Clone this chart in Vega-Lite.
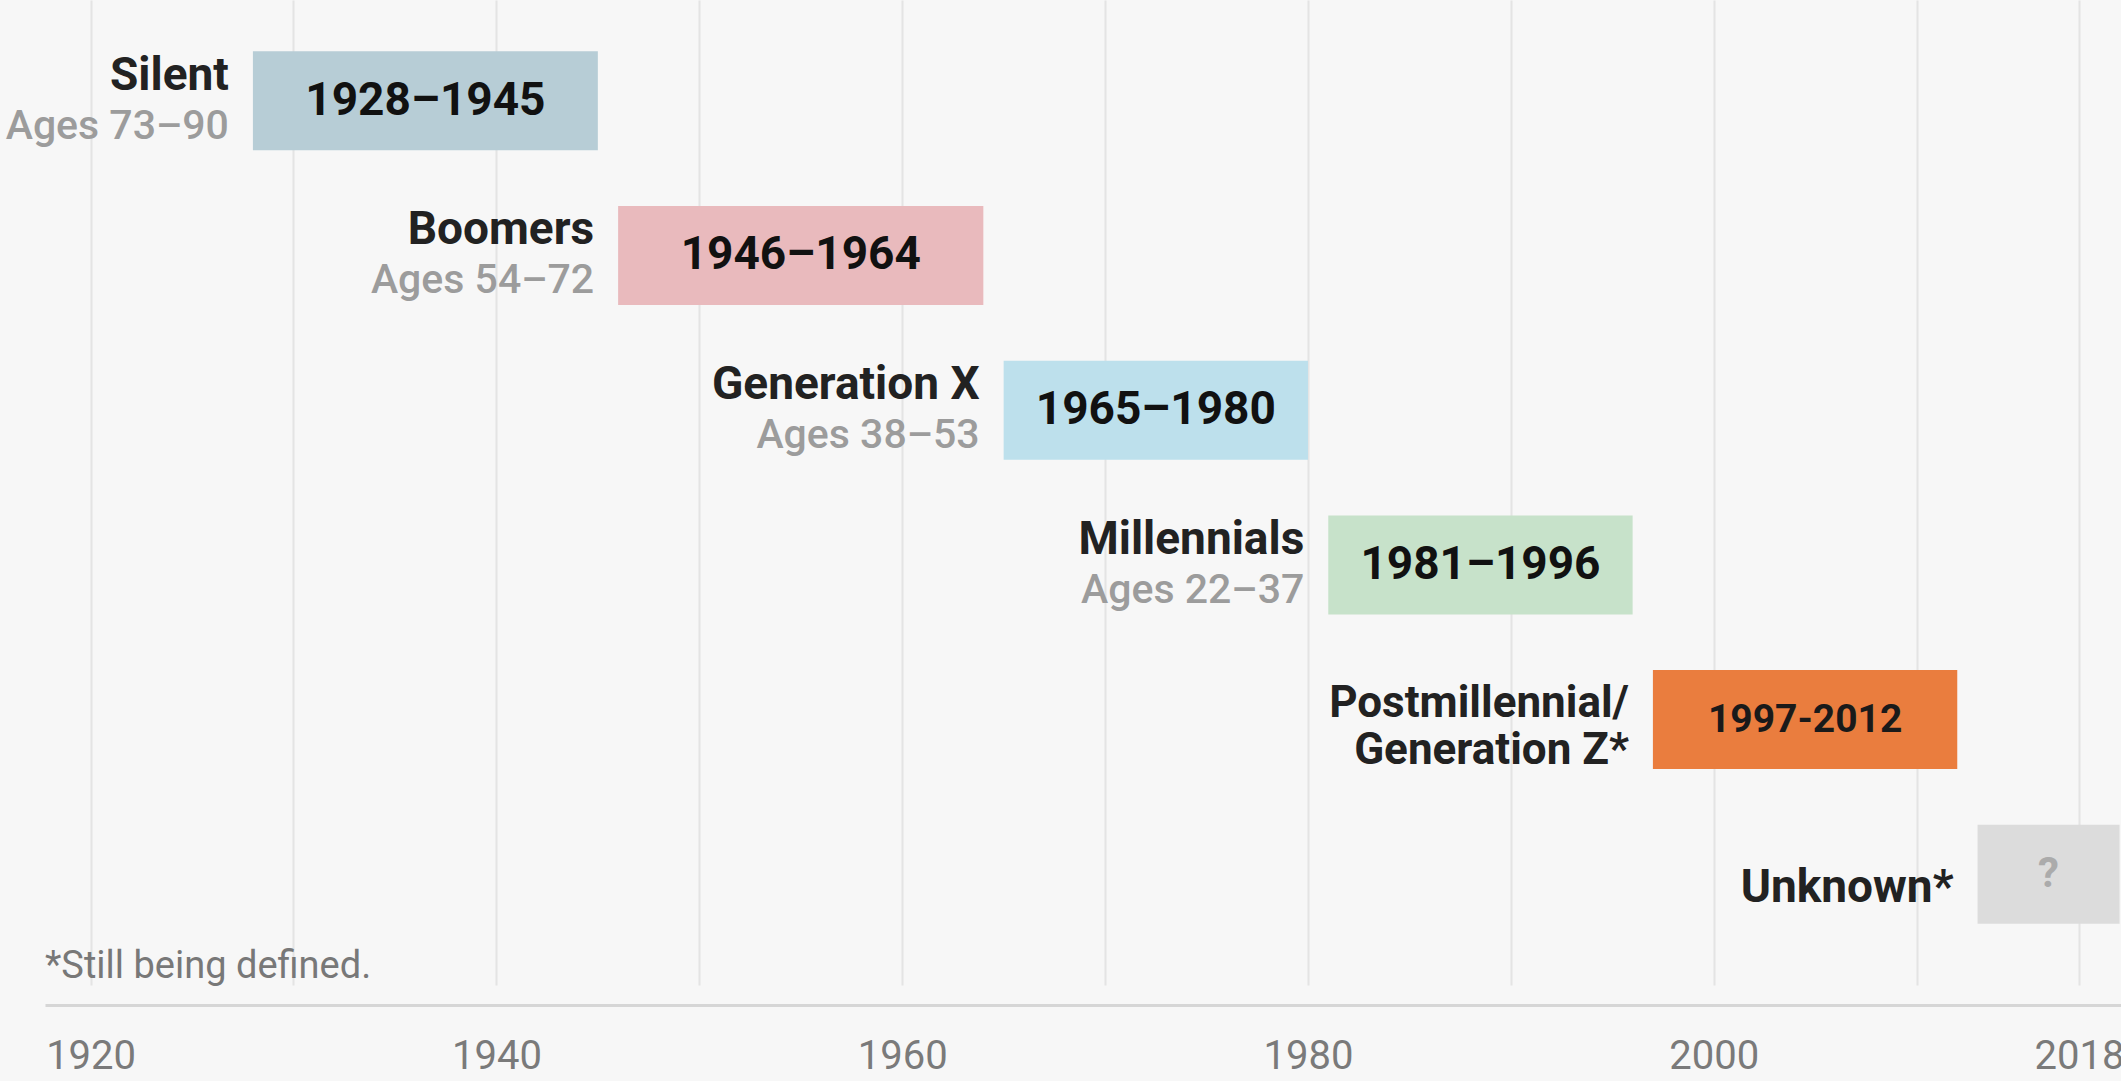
{
  "$schema": "https://vega.github.io/schema/vega-lite/v6.json",
  "width": 2076,
  "height": 985,
  "autosize": {"type": "none"},
  "padding": {"left": 45, "top": 0, "right": 0, "bottom": 96},
  "background": "#f7f7f7",
  "config": {"view": {"stroke": null}},
  "data": {"values": [
    {"gen": "Silent", "ages": "Ages 73–90", "years": "1928–1945", "start": 1928, "end": 1945, "row": 0},
    {"gen": "Boomers", "ages": "Ages 54–72", "years": "1946–1964", "start": 1946, "end": 1964, "row": 1},
    {"gen": "Generation X", "ages": "Ages 38–53", "years": "1965–1980", "start": 1965, "end": 1980, "row": 2},
    {"gen": "Millennials", "ages": "Ages 22–37", "years": "1981–1996", "start": 1981, "end": 1996, "row": 3},
    {"gen": "Postmillennial/\nGeneration Z*", "ages": "", "years": "1997-2012", "start": 1997, "end": 2012, "row": 4},
    {"gen": "Unknown*", "ages": "", "years": "?", "start": 2013, "end": 2020, "row": 5}
  ]},
  "layer": [
    {
      "mark": {"type": "bar", "height": 99},
      "encoding": {
        "x": {"field": "start", "type": "quantitative",
          "scale": {"domain": [1917.753, 2020.07], "nice": false, "zero": false},
          "axis": {
            "orient": "bottom", "offset": 20, "title": null,
            "values": [1920, 1930, 1940, 1950, 1960, 1970, 1980, 1990, 2000, 2010, 2018],
            "format": "d",
            "labelExpr": "(datum.value % 20 === 0 || datum.value === 2018) ? datum.label : ''",
            "domainColor": "#d6d6d6", "domainWidth": 3,
            "ticks": false, "tickSize": 0,
            "labelPadding": 31, "labelFontSize": 40, "labelFont": "Roboto", "labelColor": "#7a7a7a",
            "labelFlush": false, "labelOverlap": false,
            "grid": true, "gridColor": "#e4e4e4", "gridWidth": 2
          }},
        "x2": {"field": "end"},
        "y": {"field": "row", "type": "quantitative",
          "scale": {"domain": [-0.6187, 5.683], "reverse": true, "nice": false, "zero": false},
          "axis": null},
        "color": {"field": "gen", "type": "nominal", "legend": null,
          "scale": {
            "domain": ["Silent", "Boomers", "Generation X", "Millennials", "Postmillennial/\nGeneration Z*", "Unknown*"],
            "range": ["#b7cdd6", "#e9babd", "#bde0ec", "#c7e2ca", "#ea7d3e", "#dcdcdc"]}}
      }
    },
    {
      "transform": [
        {"filter": "datum.row <= 3"},
        {"fold": ["start", "end"], "as": ["k", "v"]}
      ],
      "mark": {"type": "text", "font": "Roboto", "fontWeight": "bold", "fontSize": 46, "color": "#111111", "baseline": "middle", "align": "center", "dy": 0},
      "encoding": {
        "x": {"aggregate": "mean", "field": "v", "type": "quantitative"},
        "y": {"field": "row", "type": "quantitative"},
        "text": {"field": "years"}
      }
    },
    {
      "transform": [
        {"filter": "datum.row === 4"},
        {"fold": ["start", "end"], "as": ["k", "v"]}
      ],
      "mark": {"type": "text", "font": "Liberation Sans Narrow, Roboto", "fontWeight": "bold", "fontSize": 39, "color": "#1a1a1a", "baseline": "middle", "align": "center", "dy": 0},
      "encoding": {
        "x": {"aggregate": "mean", "field": "v", "type": "quantitative"},
        "y": {"field": "row", "type": "quantitative"},
        "text": {"field": "years"}
      }
    },
    {
      "transform": [
        {"filter": "datum.row === 5"},
        {"fold": ["start", "end"], "as": ["k", "v"]}
      ],
      "mark": {"type": "text", "font": "Roboto", "fontWeight": "bold", "fontSize": 42, "color": "#ababab", "baseline": "middle", "align": "center", "dy": 0},
      "encoding": {
        "x": {"aggregate": "mean", "field": "v", "type": "quantitative"},
        "y": {"field": "row", "type": "quantitative"},
        "text": {"field": "years"}
      }
    },
    {
      "transform": [{"filter": "datum.row <= 3"}],
      "mark": {"type": "text", "font": "Roboto", "fontWeight": "bold", "fontSize": 46, "color": "#222222", "baseline": "middle", "align": "right", "dx": -24, "dy": -25},
      "encoding": {
        "x": {"field": "start", "type": "quantitative"},
        "y": {"field": "row", "type": "quantitative"},
        "text": {"field": "gen"}
      }
    },
    {
      "transform": [{"filter": "datum.row <= 3"}],
      "mark": {"type": "text", "font": "Roboto", "fontWeight": 500, "fontSize": 41, "color": "#9c9c9c", "baseline": "middle", "align": "right", "dx": -24, "dy": 26},
      "encoding": {
        "x": {"field": "start", "type": "quantitative"},
        "y": {"field": "row", "type": "quantitative"},
        "text": {"field": "ages"}
      }
    },
    {
      "transform": [{"filter": "datum.row === 4"}],
      "mark": {"type": "text", "font": "Roboto", "fontWeight": "bold", "fontSize": 44, "color": "#222222", "baseline": "middle", "align": "right", "dx": -24, "dy": -16, "lineBreak": "\n", "lineHeight": 47},
      "encoding": {
        "x": {"field": "start", "type": "quantitative"},
        "y": {"field": "row", "type": "quantitative"},
        "text": {"field": "gen"}
      }
    },
    {
      "transform": [{"filter": "datum.row === 5"}],
      "mark": {"type": "text", "font": "Roboto", "fontWeight": "bold", "fontSize": 46, "color": "#222222", "baseline": "middle", "align": "right", "dx": -24, "dy": 14},
      "encoding": {
        "x": {"field": "start", "type": "quantitative"},
        "y": {"field": "row", "type": "quantitative"},
        "text": {"field": "gen"}
      }
    },
    {
      "data": {"values": [{"note": "*Still being defined."}]},
      "mark": {"type": "text", "font": "Roboto", "fontSize": 38, "color": "#787878", "baseline": "middle", "align": "left"},
      "encoding": {
        "x": {"datum": 1917.753},
        "y": {"datum": 5.6},
        "text": {"field": "note"}
      }
    }
  ]
}
